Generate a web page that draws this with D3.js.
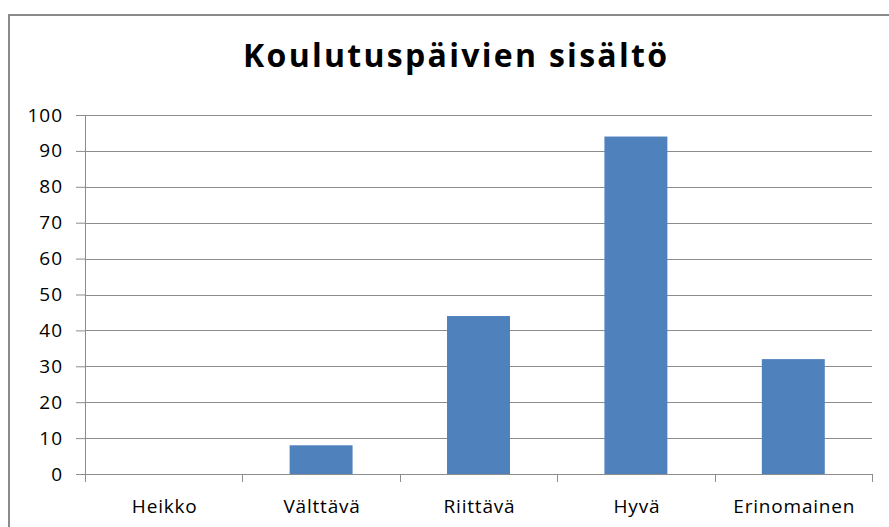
<!DOCTYPE html>
<html>
<head>
<meta charset="utf-8">
<script src="https://cdn.jsdelivr.net/npm/d3@7"></script>
<style>
  html, body { margin: 0; padding: 0; background: #fff; }
  svg { display: block; }
</style>
</head>
<body>
<svg id="chart" width="889" height="527"></svg>
<script>
var categories = ["Heikko", "Välttävä", "Riittävä", "Hyvä", "Erinomainen"];
var values = [0, 8, 44, 94, 32];
var yTicks = [0, 10, 20, 30, 40, 50, 60, 70, 80, 90, 100];
var title = "Koulutuspäivien sisältö";

var font = "'Open Sans', Lato, sans-serif";

var svg = d3.select("#chart"),
    margin = {top: 115, right: 17, bottom: 53, left: 85},
    width = +svg.attr("width") - margin.left - margin.right,
    height = +svg.attr("height") - margin.top - margin.bottom;

// outer chart frame, runs off the right and bottom of the picture
svg.append("rect")
    .attr("x", 9).attr("y", 15)
    .attr("width", 900).attr("height", 600)
    .attr("fill", "#fff")
    .attr("stroke", "#8a8a8a")
    .attr("stroke-width", 2);

svg.append("text")
    .attr("x", 455)
    .attr("y", 67)
    .attr("text-anchor", "middle")
    .attr("font-family", font)
    .attr("font-weight", "bold")
    .attr("font-size", 32)
    .attr("textLength", 424)
    .attr("lengthAdjust", "spacing")
    .attr("fill", "#000")
    .text(title);

var g = svg.append("g").attr("transform", "translate(" + margin.left + "," + margin.top + ")");

var x = d3.scaleBand().domain(categories).range([0, width]).paddingInner(0.6).paddingOuter(0.3);
var y = d3.scaleLinear().domain([0, 100]).range([height, 0]);

// gridlines
g.append("g")
    .selectAll("line")
    .data(yTicks.slice(1))
    .join("line")
    .attr("x1", 0).attr("x2", width)
    .attr("y1", function(d) { return Math.round(y(d)) + 0.5; })
    .attr("y2", function(d) { return Math.round(y(d)) + 0.5; })
    .attr("stroke", "#8c8c8c");

// bars
g.append("g")
    .selectAll("rect")
    .data(values)
    .join("rect")
    .attr("x", function(d, i) { return x(categories[i]); })
    .attr("y", function(d) { return y(d); })
    .attr("width", x.bandwidth())
    .attr("height", function(d) { return height - y(d); })
    .attr("fill", "#4f81bd");

// y axis
var yAxis = g.append("g")
    .call(d3.axisLeft(y).tickValues(yTicks).tickSize(9).tickPadding(13));
yAxis.select(".domain").attr("stroke", "#8c8c8c");
yAxis.selectAll(".tick line").attr("stroke", "#8c8c8c");
yAxis.selectAll("text")
    .attr("font-family", font)
    .attr("font-size", 19)
    .attr("letter-spacing", 1)
    .attr("fill", "#000");

// x axis with ticks between categories
var xEdges = d3.scaleLinear().domain([0, categories.length]).range([0, width]);
var xAxis = g.append("g")
    .attr("transform", "translate(0," + height + ")");
xAxis.append("line")
    .attr("x1", 0).attr("x2", width)
    .attr("y1", 0.5).attr("y2", 0.5)
    .attr("stroke", "#8c8c8c");
xAxis.selectAll(".sep")
    .data(d3.range(categories.length + 1))
    .join("line")
    .attr("class", "sep")
    .attr("x1", function(d) { return Math.round(xEdges(d)) + 0.5; })
    .attr("x2", function(d) { return Math.round(xEdges(d)) + 0.5; })
    .attr("y1", 0).attr("y2", 8)
    .attr("stroke", "#8c8c8c");
xAxis.selectAll(".lbl")
    .data(categories)
    .join("text")
    .attr("class", "lbl")
    .attr("x", function(d) { return x(d) + x.bandwidth() / 2 + 1; })
    .attr("y", 39)
    .attr("text-anchor", "middle")
    .attr("font-family", font)
    .attr("font-size", 19)
    .attr("letter-spacing", 0.8)
    .attr("fill", "#000")
    .text(function(d) { return d; });
</script>
</body>
</html>
